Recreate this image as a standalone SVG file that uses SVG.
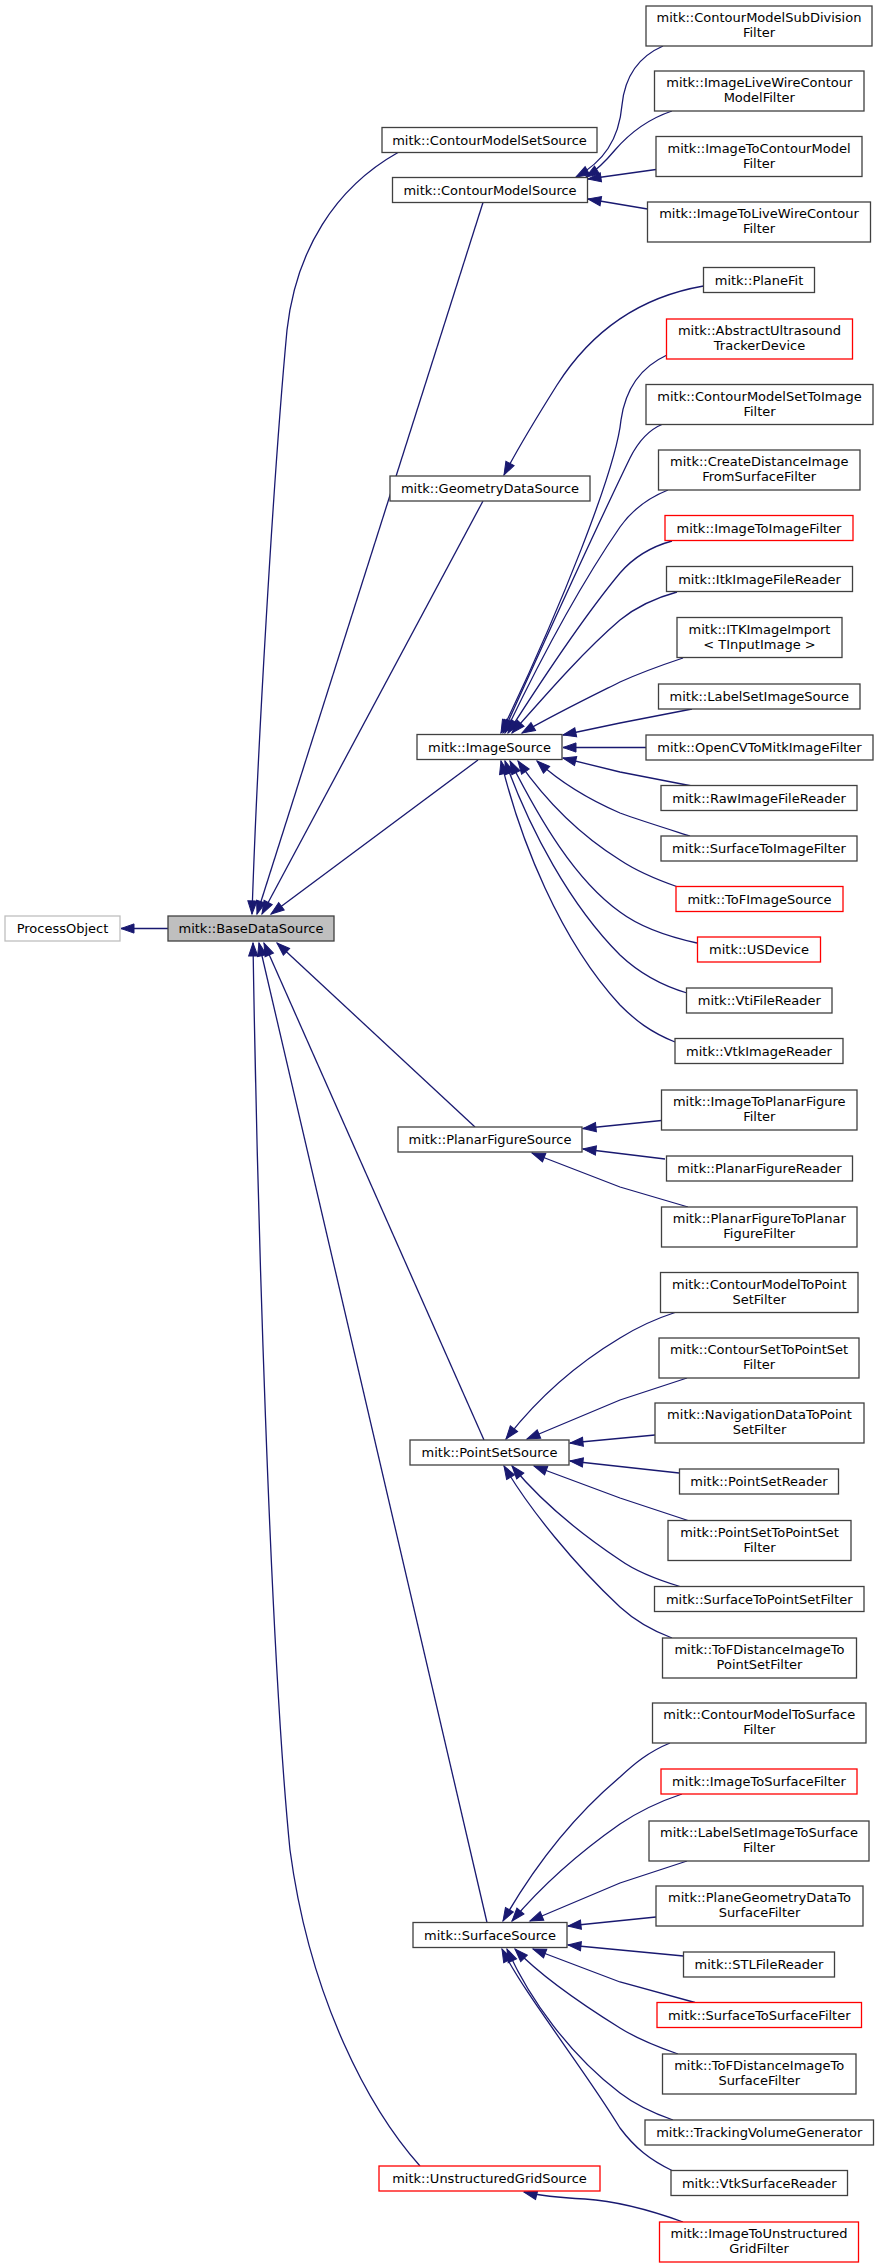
<svg xmlns="http://www.w3.org/2000/svg" width="879" height="2268" viewBox="0 0 879 2268">
<style>
.n rect{fill:#ffffff;stroke:#404040;stroke-width:1.3}
.n.red rect{stroke:#ff0000}
.n.ext rect{stroke:#bfbfbf}
.n.root rect{fill:#bfbfbf;stroke:#404040}
.n text{font-family:"DejaVu Sans","Liberation Sans",sans-serif;font-size:13px;text-anchor:middle;fill:#000000}
.e path{fill:none;stroke:#191970;stroke-width:1.3;marker-end:url(#ah)}
</style>
<defs>
<marker id="ah" markerUnits="userSpaceOnUse" markerWidth="14" markerHeight="10" viewBox="0 0 14 10" refX="13" refY="5" orient="auto" overflow="visible">
<path d="M0,0.4 L13,5 L0,9.6 z" fill="#191970" stroke="#191970" stroke-width="1"/>
</marker>
</defs>
<rect x="0" y="0" width="879" height="2268" fill="#ffffff"/>
<g id="edges" class="e">
<path d="M168,928.5 L121,928.5"/>
<path d="M398,152.5 C335,188 296,250 287,330 C273,480 257,760 252,914"/>
<path d="M483,202.5 L257,914"/>
<path d="M483,501 L262,914"/>
<path d="M478,760 L271,914"/>
<path d="M475,1127 L277,943"/>
<path d="M484,1440 L264,943"/>
<path d="M487,1922.5 L259,943"/>
<path d="M420,2166 C370,2110 310,2000 290,1850 C270,1650 257,1200 253,943"/>
<path d="M663,46 C640,56 625,75 622,105 C619,140 603,162 576,177"/>
<path d="M672,111 C645,120 628,135 615,150 C605,162 597,170 586,177"/>
<path d="M656,169.5 L588,179"/>
<path d="M647.5,209 L588,199"/>
<path d="M703.5,286 C640,297 592,330 557,385 C535,420 518,448 504,475"/>
<path d="M667,355 C643,366 626,385 621,420 C616,470 560,610 501,733"/>
<path d="M663,424 C648,430 638,442 630,458 C600,520 545,640 503,733"/>
<path d="M668,490 C648,498 632,510 620,527 C580,585 540,660 505,733"/>
<path d="M672,541 C650,547 633,558 620,573 C585,615 545,675 508,733"/>
<path d="M677,592 C655,598 636,607 620,620 C585,650 550,690 512,733"/>
<path d="M683,658 C662,665 640,673 620,682 C590,697 555,714 522,733"/>
<path d="M692,709 L620,723 L563,735"/>
<path d="M646,747.5 L563,747.5"/>
<path d="M692,786 L620,772 L563,758"/>
<path d="M690,836 C668,829 642,821 620,813 C590,800 560,782 537,761"/>
<path d="M678,887 C655,879 635,870 620,860 C580,835 545,800 518,761"/>
<path d="M697,943 C665,936 640,927 620,912 C575,880 540,820 510,761"/>
<path d="M687,993 C660,985 638,972 620,955 C570,905 530,830 505,761"/>
<path d="M675,1042 C650,1032 635,1020 620,1005 C560,940 520,840 501,761"/>
<path d="M661.5,1120.5 L583,1128.5"/>
<path d="M665,1159 L583,1149"/>
<path d="M688,1207 L620,1187 L532,1153"/>
<path d="M675,1312.5 C652,1320 636,1328 620,1338 C580,1362 540,1395 506,1439"/>
<path d="M687,1378 L620,1400 L527,1439"/>
<path d="M655,1435 L570,1443"/>
<path d="M679,1473 L570,1461"/>
<path d="M688,1520.5 L620,1498 L534,1466"/>
<path d="M680,1586.5 C655,1579 634,1570 620,1560 C575,1530 540,1500 512,1466"/>
<path d="M672,1638 C648,1629 632,1618 620,1607 C575,1565 530,1510 504,1466"/>
<path d="M670,1743 C648,1752 634,1764 620,1777 C575,1815 535,1865 503,1921"/>
<path d="M682,1794 C658,1802 638,1812 620,1824 C580,1852 545,1882 512,1921"/>
<path d="M687,1861 L620,1883 L530,1921"/>
<path d="M656,1917 L568,1926"/>
<path d="M683.5,1956 L568,1945"/>
<path d="M695,2002.5 L620,1982 L533,1949"/>
<path d="M678,2054 C655,2046 636,2038 620,2028 C575,2000 540,1975 515,1949"/>
<path d="M673,2120 C650,2112 633,2103 620,2093 C570,2055 530,2000 507,1949"/>
<path d="M672,2170.5 C650,2160 635,2148 620,2128 C585,2070 525,1995 502,1949"/>
<path d="M683,2222 C650,2210 615,2201 585,2199 C565,2198 545,2197 524,2192"/>
</g>
<g id="n_po" class="n ext"><rect x="5" y="916" width="115" height="25"/><text x="62.5" y="933">ProcessObject</text></g>
<g id="n_bds" class="n root"><rect x="168" y="916" width="166" height="25"/><text x="251" y="933">mitk::BaseDataSource</text></g>
<g id="n_cmss" class="n"><rect x="382" y="127.5" width="215" height="25"/><text x="489.5" y="144.5">mitk::ContourModelSetSource</text></g>
<g id="n_cms" class="n"><rect x="392.5" y="177.5" width="195" height="25"/><text x="490" y="194.5">mitk::ContourModelSource</text></g>
<g id="n_gds" class="n"><rect x="390" y="476" width="200" height="25"/><text x="490" y="493">mitk::GeometryDataSource</text></g>
<g id="n_is" class="n"><rect x="417" y="734.5" width="145" height="25"/><text x="489.5" y="751.5">mitk::ImageSource</text></g>
<g id="n_pfs" class="n"><rect x="398" y="1127" width="184" height="25"/><text x="490" y="1144">mitk::PlanarFigureSource</text></g>
<g id="n_pss" class="n"><rect x="410" y="1440" width="159" height="25"/><text x="489.5" y="1457">mitk::PointSetSource</text></g>
<g id="n_ss" class="n"><rect x="413" y="1922.5" width="154" height="25"/><text x="490" y="1939.5">mitk::SurfaceSource</text></g>
<g id="n_ugs" class="n red"><rect x="379" y="2166" width="221" height="25"/><text x="489.5" y="2183">mitk::UnstructuredGridSource</text></g>
<g id="n_subdiv" class="n"><rect x="646" y="6" width="226" height="40"/><text x="759" y="22">mitk::ContourModelSubDivision</text><text x="759" y="37">Filter</text></g>
<g id="n_ilwcm" class="n"><rect x="654.5" y="71" width="209.5" height="40"/><text x="759.25" y="87">mitk::ImageLiveWireContour</text><text x="759.25" y="102">ModelFilter</text></g>
<g id="n_itcm" class="n"><rect x="656" y="136.5" width="206" height="40"/><text x="759" y="152.5">mitk::ImageToContourModel</text><text x="759" y="167.5">Filter</text></g>
<g id="n_itlwc" class="n"><rect x="647.5" y="202" width="223" height="40"/><text x="759" y="218">mitk::ImageToLiveWireContour</text><text x="759" y="233">Filter</text></g>
<g id="n_planefit" class="n"><rect x="703.5" y="267.5" width="111" height="25"/><text x="759" y="284.5">mitk::PlaneFit</text></g>
<g id="n_autd" class="n red"><rect x="666.5" y="319" width="186" height="40"/><text x="759.5" y="335">mitk::AbstractUltrasound</text><text x="759.5" y="350">TrackerDevice</text></g>
<g id="n_cmsti" class="n"><rect x="646" y="384.5" width="227" height="40"/><text x="759.5" y="400.5">mitk::ContourModelSetToImage</text><text x="759.5" y="415.5">Filter</text></g>
<g id="n_cdi" class="n"><rect x="658.5" y="450" width="201.5" height="40"/><text x="759.25" y="466">mitk::CreateDistanceImage</text><text x="759.25" y="481">FromSurfaceFilter</text></g>
<g id="n_itif" class="n red"><rect x="665" y="515.5" width="188" height="25"/><text x="759" y="532.5">mitk::ImageToImageFilter</text></g>
<g id="n_itkr" class="n"><rect x="666.5" y="566.5" width="186" height="25"/><text x="759.5" y="583.5">mitk::ItkImageFileReader</text></g>
<g id="n_itkimp" class="n"><rect x="677" y="617.5" width="165" height="40"/><text x="759.5" y="633.5">mitk::ITKImageImport</text><text x="759.5" y="648.5">&lt; TInputImage &gt;</text></g>
<g id="n_lsis" class="n"><rect x="658.5" y="684" width="201.5" height="25"/><text x="759.25" y="701">mitk::LabelSetImageSource</text></g>
<g id="n_ocv" class="n"><rect x="646" y="735" width="227" height="25"/><text x="759.5" y="752">mitk::OpenCVToMitkImageFilter</text></g>
<g id="n_raw" class="n"><rect x="661" y="785.5" width="196" height="25"/><text x="759" y="802.5">mitk::RawImageFileReader</text></g>
<g id="n_stif" class="n"><rect x="661" y="836" width="196" height="25"/><text x="759" y="853">mitk::SurfaceToImageFilter</text></g>
<g id="n_tofis" class="n red"><rect x="676" y="886.5" width="167" height="25"/><text x="759.5" y="903.5">mitk::ToFImageSource</text></g>
<g id="n_usd" class="n red"><rect x="697.5" y="937" width="123" height="25"/><text x="759" y="954">mitk::USDevice</text></g>
<g id="n_vti" class="n"><rect x="686.5" y="988" width="145.5" height="25"/><text x="759.25" y="1005">mitk::VtiFileReader</text></g>
<g id="n_vtkir" class="n"><rect x="675" y="1038.5" width="168" height="25"/><text x="759" y="1055.5">mitk::VtkImageReader</text></g>
<g id="n_itpf" class="n"><rect x="661.5" y="1090" width="195.5" height="40"/><text x="759.25" y="1106">mitk::ImageToPlanarFigure</text><text x="759.25" y="1121">Filter</text></g>
<g id="n_pfr" class="n"><rect x="666.5" y="1156" width="186" height="25"/><text x="759.5" y="1173">mitk::PlanarFigureReader</text></g>
<g id="n_pftpf" class="n"><rect x="661.5" y="1207" width="195.5" height="40"/><text x="759.25" y="1223">mitk::PlanarFigureToPlanar</text><text x="759.25" y="1238">FigureFilter</text></g>
<g id="n_cmtps" class="n"><rect x="660.5" y="1272.5" width="197.5" height="40"/><text x="759.25" y="1288.5">mitk::ContourModelToPoint</text><text x="759.25" y="1303.5">SetFilter</text></g>
<g id="n_cstps" class="n"><rect x="659" y="1338" width="200" height="40"/><text x="759" y="1354">mitk::ContourSetToPointSet</text><text x="759" y="1369">Filter</text></g>
<g id="n_ndtps" class="n"><rect x="655" y="1403" width="209" height="40"/><text x="759.5" y="1419">mitk::NavigationDataToPoint</text><text x="759.5" y="1434">SetFilter</text></g>
<g id="n_psr" class="n"><rect x="679.5" y="1469" width="159" height="25"/><text x="759" y="1486">mitk::PointSetReader</text></g>
<g id="n_pstps" class="n"><rect x="668" y="1520.5" width="183" height="40"/><text x="759.5" y="1536.5">mitk::PointSetToPointSet</text><text x="759.5" y="1551.5">Filter</text></g>
<g id="n_stps" class="n"><rect x="654.5" y="1586.5" width="209.5" height="25"/><text x="759.25" y="1603.5">mitk::SurfaceToPointSetFilter</text></g>
<g id="n_tofdps" class="n"><rect x="662.5" y="1638" width="194" height="40"/><text x="759.5" y="1654">mitk::ToFDistanceImageTo</text><text x="759.5" y="1669">PointSetFilter</text></g>
<g id="n_cmts" class="n"><rect x="652.5" y="1703" width="213.5" height="40"/><text x="759.25" y="1719">mitk::ContourModelToSurface</text><text x="759.25" y="1734">Filter</text></g>
<g id="n_itsf" class="n red"><rect x="661" y="1769" width="196" height="25"/><text x="759" y="1786">mitk::ImageToSurfaceFilter</text></g>
<g id="n_lsits" class="n"><rect x="649" y="1821" width="220" height="40"/><text x="759" y="1837">mitk::LabelSetImageToSurface</text><text x="759" y="1852">Filter</text></g>
<g id="n_pgdts" class="n"><rect x="656" y="1886" width="207" height="40"/><text x="759.5" y="1902">mitk::PlaneGeometryDataTo</text><text x="759.5" y="1917">SurfaceFilter</text></g>
<g id="n_stl" class="n"><rect x="683.5" y="1952" width="151" height="25"/><text x="759" y="1969">mitk::STLFileReader</text></g>
<g id="n_stsf" class="n red"><rect x="657" y="2002.5" width="204.5" height="25"/><text x="759.25" y="2019.5">mitk::SurfaceToSurfaceFilter</text></g>
<g id="n_tofdts" class="n"><rect x="662.5" y="2054" width="193.5" height="40"/><text x="759.25" y="2070">mitk::ToFDistanceImageTo</text><text x="759.25" y="2085">SurfaceFilter</text></g>
<g id="n_tvg" class="n"><rect x="645" y="2120" width="228.5" height="25"/><text x="759.25" y="2137">mitk::TrackingVolumeGenerator</text></g>
<g id="n_vtksr" class="n"><rect x="671" y="2170.5" width="176.5" height="25"/><text x="759.25" y="2187.5">mitk::VtkSurfaceReader</text></g>
<g id="n_itug" class="n red"><rect x="659.5" y="2222" width="199" height="40"/><text x="759" y="2238">mitk::ImageToUnstructured</text><text x="759" y="2253">GridFilter</text></g>
</svg>
